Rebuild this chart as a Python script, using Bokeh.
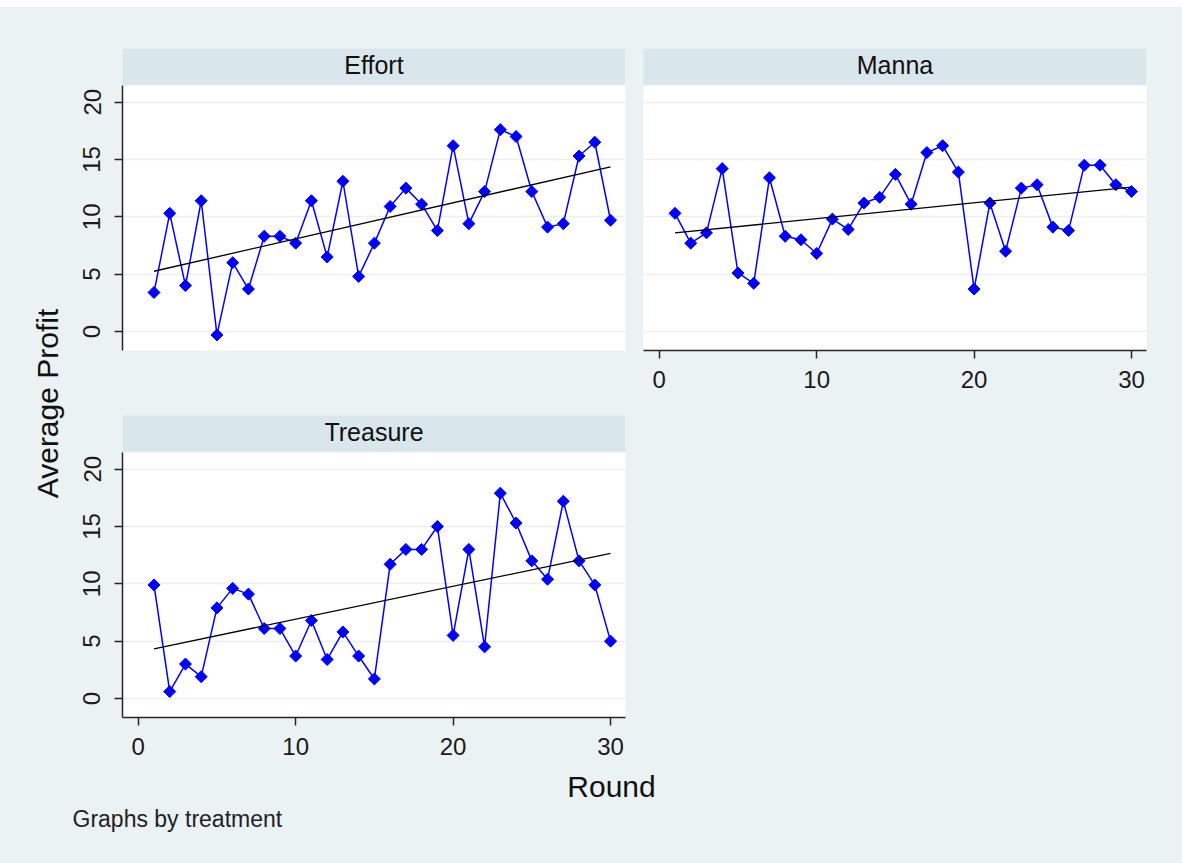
import numpy as np
from bokeh.plotting import figure
from bokeh.layouts import row, column
from bokeh.models import Range1d, FixedTicker, Spacer
from bokeh.core.properties import value
from bokeh.embed import file_html
from bokeh.resources import INLINE

# ---------------- data ----------------
rounds = list(range(1, 31))
effort = [3.4, 10.3, 4.0, 11.4, -0.3, 6.0, 3.7, 8.3, 8.3, 7.7,
          11.4, 6.5, 13.1, 4.8, 7.7, 10.9, 12.5, 11.1, 8.8, 16.2,
          9.4, 12.2, 17.6, 17.0, 12.2, 9.1, 9.4, 15.3, 16.5, 9.7]
manna = [10.3, 7.7, 8.6, 14.2, 5.1, 4.2, 13.4, 8.3, 8.0, 6.8,
         9.8, 8.9, 11.2, 11.7, 13.7, 11.1, 15.6, 16.2, 13.9, 3.7,
         11.2, 7.0, 12.5, 12.8, 9.1, 8.8, 14.5, 14.5, 12.8, 12.2]
treasure = [9.9, 0.6, 3.0, 1.9, 7.9, 9.6, 9.1, 6.1, 6.1, 3.7,
            6.8, 3.4, 5.8, 3.7, 1.7, 11.7, 13.0, 13.0, 15.0, 5.5,
            13.0, 4.5, 17.9, 15.3, 12.0, 10.4, 17.2, 12.0, 9.9, 5.0]
panel_titles = ["Effort", "Manna", "Treasure"]
y_ticks = [0, 5, 10, 15, 20]
x_ticks = [0, 10, 20, 30]
x_title = "Round"
y_title = "Average Profit"
note = "Graphs by treatment"

# ---------------- style ----------------
BG = "#EAF2F3"
STRIP = "#D9E6EC"
GRID = "#E8F0F2"
AX = "#262626"
FONT = "Liberation Sans"
BLUE = "#0000FF"


def strip(title, w=503, h=37):
    p = figure(width=w, height=h, x_range=Range1d(0, 1), y_range=Range1d(0, 1),
               output_backend="svg", toolbar_location=None,
               x_axis_location=None, y_axis_location=None, min_border=0)
    p.grid.visible = False
    p.outline_line_color = None
    p.background_fill_color = STRIP
    p.border_fill_color = STRIP
    p.text(x=[0.5], y=[0.55], text=[title], text_align="center", text_baseline="middle",
           text_font=value(FONT), text_font_size="25px", text_color="#111111")
    return p


def panel(vals, w, h, left, right, bottom, show_x, show_y):
    p = figure(width=w, height=h, x_range=Range1d(-1.0, 30.95), y_range=Range1d(-1.66, 21.45),
               output_backend="svg", toolbar_location=None,
               x_axis_location="below" if show_x else None,
               y_axis_location="left" if show_y else None,
               min_border_left=left, min_border_right=right,
               min_border_top=0, min_border_bottom=bottom)
    p.background_fill_color = "white"
    p.border_fill_color = BG
    p.outline_line_color = None
    p.xgrid.visible = False
    p.ygrid[0].ticker = FixedTicker(ticks=y_ticks)
    p.ygrid.grid_line_color = GRID
    p.ygrid.grid_line_width = 1.5
    for ax in p.axis:
        ax.axis_line_color = AX
        ax.axis_line_width = 1.5
        ax.major_tick_line_color = AX
        ax.major_tick_line_width = 1.5
        ax.major_tick_out = 8
        ax.major_tick_in = 0
        ax.minor_tick_line_color = None
        ax.major_label_text_font = FONT
        ax.major_label_text_font_size = "24px"
        ax.major_label_text_color = "#1a1a1a"
    if show_x:
        p.xaxis.ticker = FixedTicker(ticks=x_ticks)
        p.xaxis.major_label_standoff = 12
    if show_y:
        p.yaxis.ticker = FixedTicker(ticks=y_ticks)
        p.yaxis.major_label_orientation = "vertical"
        p.yaxis.major_label_standoff = 14
    p.line(rounds, vals, line_color=BLUE, line_width=1.5)
    p.scatter(rounds, vals, marker="square", angle=np.pi / 4, size=8.5,
              fill_color=BLUE, line_color=BLUE)
    k, b = np.polyfit(rounds, vals, 1)
    xs = [rounds[0], rounds[-1]]
    p.line(xs, [k * x + b for x in xs], line_color="black", line_width=1.3)
    return p


# Effort (top-left): x 75..634, y 7..415
effort_fig = panel(effort, 559, 330, 47, 9, 65, False, True)
col_effort = column(Spacer(width=559, height=41),
                    row(Spacer(width=47, height=37), strip(panel_titles[0]), Spacer(width=9, height=37)),
                    effort_fig)

# Manna (top-right): x 634..1182
manna_fig = panel(manna, 548, 330, 9, 36, 65, True, False)
col_manna = column(Spacer(width=548, height=41),
                   row(Spacer(width=9, height=37), strip(panel_titles[1]), Spacer(width=36, height=37)),
                   manna_fig)

# Treasure (bottom-left): y 415..760
treasure_fig = panel(treasure, 559, 308, 47, 9, 43, True, True)
col_treasure = column(row(Spacer(width=47, height=37), strip(panel_titles[2]), Spacer(width=9, height=37)),
                      treasure_fig)

main_col = column(row(col_effort, col_manna), col_treasure)

# Left label: x 0..75, y 7..760
lab = figure(width=75, height=753, x_range=Range1d(0, 75), y_range=Range1d(0, 753),
             output_backend="svg", toolbar_location=None,
             x_axis_location=None, y_axis_location=None, min_border=0)
lab.grid.visible = False
lab.outline_line_color = None
lab.background_fill_color = BG
lab.border_fill_color = BG
lab.text(x=[47], y=[760 - 403], text=[y_title], angle=np.pi / 2, text_align="center",
         text_baseline="middle", text_font=value(FONT), text_font_size="30px", text_color="#111111")

# Bottom strip: y 760..863
bot = figure(width=1182, height=103, x_range=Range1d(0, 1182), y_range=Range1d(0, 103),
             output_backend="svg", toolbar_location=None,
             x_axis_location=None, y_axis_location=None, min_border=0)
bot.grid.visible = False
bot.outline_line_color = None
bot.background_fill_color = BG
bot.border_fill_color = BG
bot.text(x=[611], y=[863 - 786], text=[x_title], text_align="center", text_baseline="middle",
         text_font=value(FONT), text_font_size="30px", text_color="#111111")
bot.text(x=[72], y=[863 - 818], text=[note], text_align="left", text_baseline="middle",
         text_font=value(FONT), text_font_size="23px", text_color="#222222")

top_band = Spacer(width=1182, height=7, styles={"background-color": "white"})
body = column(row(lab, main_col), bot, styles={"background-color": BG})
page = column(top_band, body, styles={"background-color": "white"})

open("out.html", "w").write(file_html(page, INLINE))
